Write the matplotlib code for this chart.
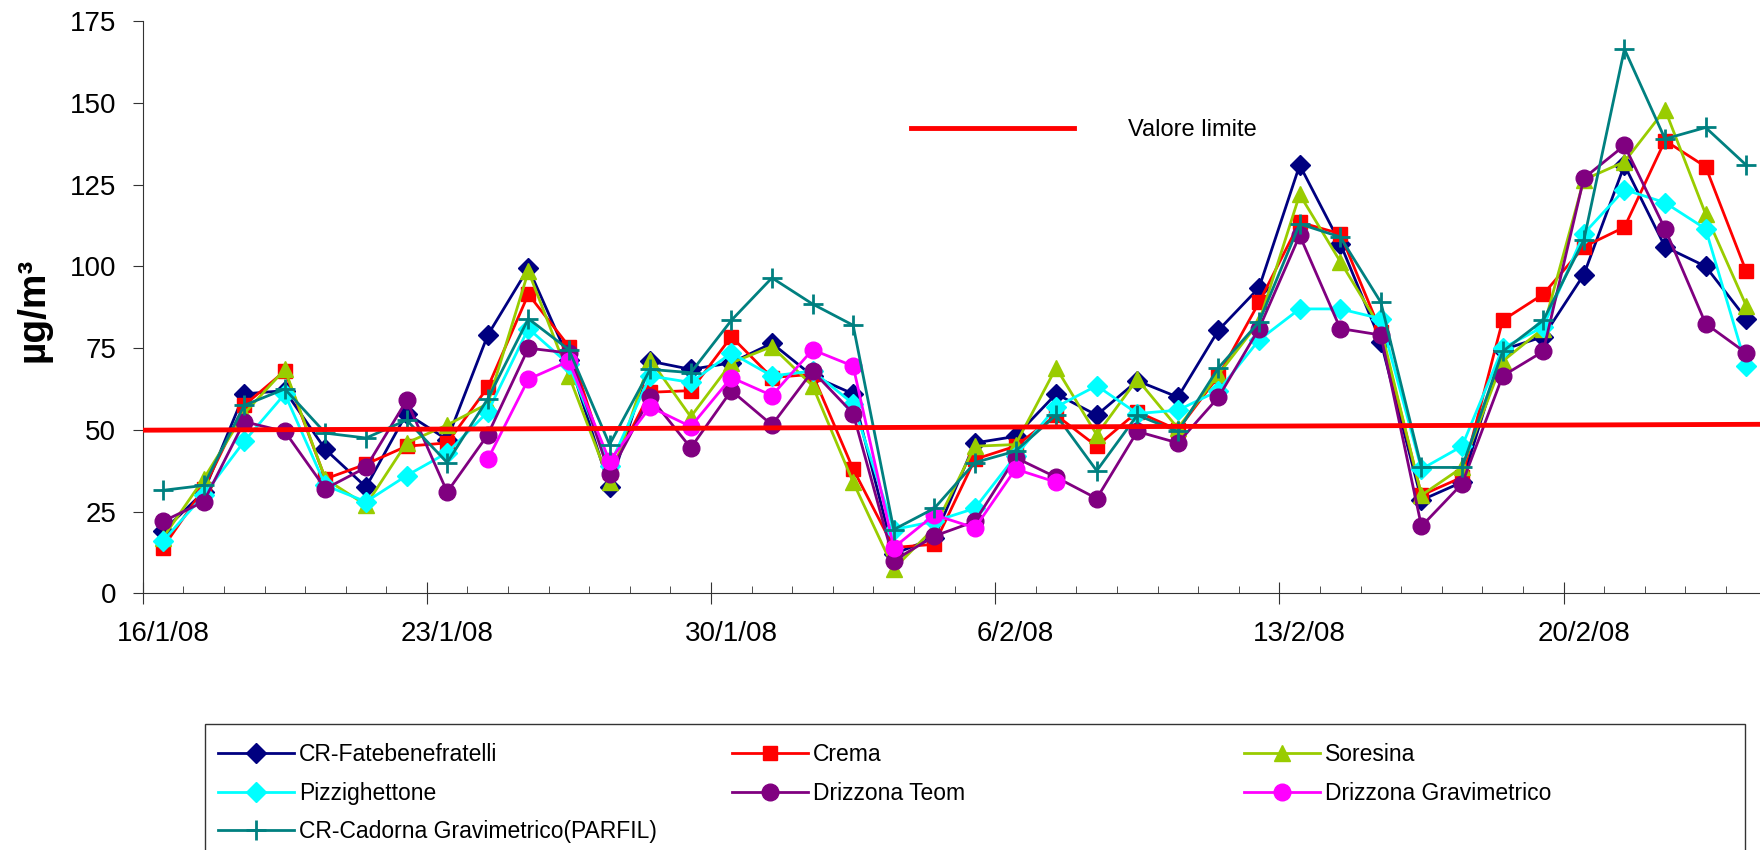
import numpy as np
import pandas as pd
import matplotlib
matplotlib.use("Agg")
import matplotlib.pyplot as plt
from matplotlib.patches import Rectangle

# one category per day, 16/1/08 .. 24/2/08
days = pd.date_range("2008-01-16", periods=40, freq="D")
label_step = 7

nan = np.nan

fatebenefratelli = [19, 31, 61, 62, 44, 32.5, 55, 47, 79, 99.5,
                    71.5, 32.5, 71, 68.5, 70.5, 76.5, 66.5, 61, 12, 17,
                    46, 48, 61, 54.5, 65, 60, 80.5, 93.5, 131, 107,
                    77, 28.5, 34, 74.5, 78.5, 97.5, 131, 106, 100, 84]
crema = [14, 32, 57.5, 68, 35, 39.5, 45, 46, 63, 91.5,
         75.5, 37, 61.5, 62, 78.5, 66, 67, 38, 14, 15,
         41, 45, 54.5, 45, 55.5, 50, 66.5, 89, 113.5, 110,
         80, 30, 35.5, 83.5, 91.5, 106, 112, 138.5, 130.5, 98.5]
soresina = [17, 35, 55, 68.5, 35, 27, 46, 51.5, 58, 98.5,
            66.5, 34, 71.5, 54, 70.5, 75.5, 63.5, 34, 7.5, 20,
            45, 45.5, 69, 48.5, 65.5, 50.5, 67, 83, 122, 101.5,
            81, 30, 38.5, 71, 81, 126.5, 132, 148, 116, 88]
pizzighettone = [16, 30, 46.5, 61, 33, 28, 36, 43, 55.5, 81,
                 70, 39, 66.5, 64.5, 73.5, 66.5, 68, 58, 19.5, 22,
                 26, 42, 57, 63.5, 55, 56, 62, 77.5, 87, 87,
                 84, 38, 45, 75, 81.5, 110, 123.5, 119.5, 111.5, 69.5]
drizzona_teom = [22, 28, 52.5, 49.5, 32, 38.5, 59, 31, 48.5, 75,
                 73.5, 36.5, 60, 44.5, 62, 51.5, 68, 55, 10, 17.5,
                 22, 41.5, 35.5, 29, 49.5, 46, 60, 81, 109.5, 81,
                 79, 20.5, 33.5, 66.5, 74, 127, 137, 111.5, 82.5, 73.5]
drizzona_grav = [nan, nan, nan, nan, nan, nan, nan, nan, 41, 65.5,
                 71, 40.5, 57, 51, 66, 60.5, 74.5, 69.5, 14, 24,
                 20, 38, 34, nan, nan, nan, nan, nan, nan, nan,
                 nan, nan, nan, nan, nan, nan, nan, nan, nan, nan]
cadorna = [31.5, 33, 57.5, 62.5, 49, 47.5, 53, 40, 59.5, 84,
           74.5, 45.5, 68.5, 67.5, 83.5, 96.5, 88.5, 82, 19.5, 26,
           40, 43.5, 54.5, 37.5, 54.5, 49.5, 69, 83, 113, 109,
           89, 38.5, 38.5, 74, 83.5, 108, 166.5, 139, 142.5, 131]

# limit value line (start / end)
limit_value = [49.9, 51.7]

plt.rcParams["font.family"] = ["Liberation Sans", "DejaVu Sans"]

fig = plt.figure(figsize=(17.6, 8.5), dpi=100)
ax = fig.add_axes([0.0811, 0.302, 0.9226, 0.673])

x = np.arange(len(days))

series = [
    ("CR-Fatebenefratelli", fatebenefratelli, "#000080", "D", 10),
    ("Crema", crema, "#FF0000", "s", 10.5),
    ("Soresina", soresina, "#99CC00", "^", 12),
    ("Pizzighettone", pizzighettone, "#00FFFF", "D", 10),
    ("Drizzona Teom", drizzona_teom, "#800080", "o", 12),
    ("Drizzona Gravimetrico", drizzona_grav, "#FF00FF", "o", 12),
    ("CR-Cadorna Gravimetrico(PARFIL)", cadorna, "#008080", "+", 15),
]

handles = []
for name, values, color, marker, size in series:
    (line,) = ax.plot(x, values, color=color, marker=marker, markersize=size,
                      markeredgewidth=2 if marker == "+" else 1,
                      linewidth=2, label=name)
    handles.append(line)

(limit_line,) = ax.plot([x[0] - 0.5, x[-1] + 0.5], limit_value,
                        color="#FF0000", linewidth=3.5, zorder=10,
                        label="Valore limite")

ax.set_xlim(x[0] - 0.5, x[-1] + 0.5)
ax.set_ylim(0, 175)

for side in ["top", "right"]:
    ax.spines[side].set_visible(False)
for side in ["left", "bottom"]:
    ax.spines[side].set_color("#333333")

ax.set_yticks(range(0, 176, 25))
ax.tick_params(axis="y", direction="out", length=7, pad=12, labelsize=20,
               color="#333333")

# date labels centred on the categories, every 7 days
label_pos = x[::label_step]
ax.set_xticks(label_pos)
ax.set_xticklabels([f"{d.day}/{d.month}/08" for d in days[::label_step]])
ax.tick_params(axis="x", which="major", length=0, pad=20, labelsize=20)

# small ticks on every category boundary
boundaries = np.arange(len(days) + 1) - 0.5
ax.set_xticks(boundaries, minor=True)
ax.tick_params(axis="x", which="minor", direction="in", length=5,
               color="#333333")

# long crossing ticks every 7 categories
sec = ax.secondary_xaxis("bottom")
sec.set_xticks(boundaries[::label_step])
sec.tick_params(direction="inout", length=16, labelbottom=False,
                color="#333333")
sec.spines["bottom"].set_visible(False)

fig.text(33 / 1760, 1 - 310 / 850, "µg/m³", rotation=90, fontsize=28,
         fontweight="bold", ha="center", va="center")

ax.legend(handles=[limit_line], loc="center left",
          bbox_to_anchor=(911 / 1760, 1 - 130 / 850),
          bbox_transform=fig.transFigure, frameon=False, fontsize=17,
          handlelength=6.9, handletextpad=2.3, borderpad=0, borderaxespad=0)

# legend below the chart: three equal-width columns, filled row by row
columns = [[0, 3, 6], [1, 4], [2, 5]]
col_x = [218, 732, 1244]
for idx, cx in zip(columns, col_x):
    fig.legend(handles=[handles[i] for i in idx], loc="upper left",
               bbox_to_anchor=(cx / 1760, 1 - 743 / 850),
               frameon=False, fontsize=16.5, handlelength=3.3,
               handletextpad=0.25, labelspacing=0.68, borderpad=0,
               borderaxespad=0)

fig.add_artist(Rectangle((205 / 1760, -0.05), (1745 - 205) / 1760,
                         (850 - 724) / 850 + 0.05, transform=fig.transFigure,
                         fill=False, edgecolor="#333333", linewidth=1))

fig.savefig("out.png", dpi=100)
